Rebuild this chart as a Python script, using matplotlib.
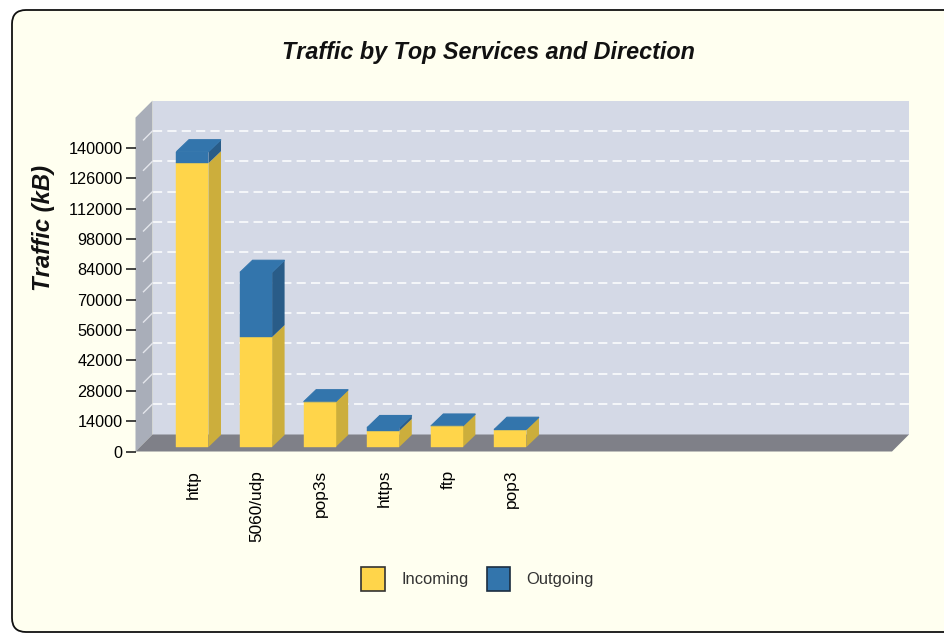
import numpy as np
import matplotlib
matplotlib.use("Agg")
import matplotlib.pyplot as plt
from matplotlib.patches import FancyBboxPatch, Polygon, Patch
from matplotlib.transforms import Affine2D, IdentityTransform

# values (kB)
services = ["http", "5060/udp", "pop3s", "https", "ftp", "pop3"]
incoming = [130900, 50700, 20700, 7400, 9500, 8000]
outgoing = [5300, 29900, 200, 1600, 200, 200]
y_ticks = [0, 14000, 28000, 42000, 56000, 70000, 84000, 98000, 112000, 126000, 140000]

YELLOW = "#FFD54A"
YELLOW_SIDE = "#CCAE3C"
BLUE = "#3375AC"
BLUE_SIDE = "#295C88"
PANEL = "#FFFFF0"
WALL = "#D4D9E6"
LEFT_WALL = "#A9AEB9"
FLOOR = "#7F8088"

W, H = 945, 634
plt.rcParams["font.family"] = ["Liberation Sans", "DejaVu Sans"]
plt.rcParams["text.kerning_factor"] = 6

fig = plt.figure(figsize=(W / 100, H / 100), dpi=100, facecolor="white")

# rounded panel, runs off the right edge of the image
fig.add_artist(FancyBboxPatch((24, 14), 940, 598, boxstyle="round,pad=12,rounding_size=14",
                              transform=IdentityTransform(), facecolor=PANEL,
                              edgecolor="#111111", linewidth=1.3, zorder=-1))

# axes = front plane of the 3d box
left, right, bottom, top = 135.5, 892.0, 451.5, 117.6
ax = fig.add_axes([left / W, 1 - bottom / H, (right - left) / W, (bottom - top) / H])
ax.set_xlim(-0.912, 10.984)
ax.set_ylim(0, 154000)
ax.patch.set_visible(False)
for s in ax.spines.values():
    s.set_visible(False)

ax_w = right - left
ax_h = bottom - top
px_x = ax_w / 11.896
px_y = ax_h / 154000
WALL_DEPTH = 17


def axpt(x, y, d=0):
    # axes fraction plus depth in pixels
    return (x + d / ax_w, y + d / ax_h)


def wall(points, color, z):
    ax.add_patch(Polygon([axpt(*p) for p in points], closed=True, facecolor=color,
                         edgecolor="none", transform=ax.transAxes, clip_on=False, zorder=z))


wall([(0, 0, WALL_DEPTH), (1, 0, WALL_DEPTH), (1, 1, WALL_DEPTH), (0, 1, WALL_DEPTH)], WALL, 1)
wall([(0, 0, 0), (0, 1, 0), (0, 1, WALL_DEPTH), (0, 0, WALL_DEPTH)], LEFT_WALL, 1)
wall([(0, 0, 0), (1, 0, 0), (1, 0, WALL_DEPTH), (0, 0, WALL_DEPTH)], FLOOR, 1.5)

# dashed grid on back wall and a short diagonal on the left wall
for v in y_ticks[1:]:
    yf = v / 154000
    p0 = axpt(0, yf, WALL_DEPTH)
    p1 = axpt(1, yf, WALL_DEPTH)
    ax.plot([p0[0], p1[0]], [p0[1], p1[1]], transform=ax.transAxes, color="white", lw=1.1,
            dashes=(6, 3.4), clip_on=False, zorder=2)
    p2 = axpt(0, yf, 8)
    ax.plot([p2[0], p0[0]], [p2[1], p0[1]], transform=ax.transAxes, color="#E4E6EC", lw=1.0,
            clip_on=False, zorder=2)

# stacked 3d bars, front faces sit a bit inside the floor
bar_w = 32 / px_x
dx = 12.5 / px_x
dy = 12 / px_y
front = Affine2D().translate(-1, 4.5)
x = np.arange(len(services))
inc = np.array(incoming)
out = np.array(outgoing)
trans = ax.transData + front

# top faces first so the blue front covers the joint
for xi, a, b in zip(x, inc, out):
    x1 = xi - bar_w / 2
    x2 = xi + bar_w / 2
    total = a + b
    ax.add_patch(Polygon([(x2, 0), (x2 + dx, dy), (x2 + dx, a + dy), (x2, a)],
                         facecolor=YELLOW_SIDE, edgecolor="none", transform=trans, zorder=4))
    ax.add_patch(Polygon([(x2, a), (x2 + dx, a + dy), (x2 + dx, total + dy), (x2, total)],
                         facecolor=BLUE_SIDE, edgecolor="none", transform=trans, zorder=4))
    ax.add_patch(Polygon([(x1, total), (x2, total), (x2 + dx, total + dy), (x1 + dx, total + dy)],
                         facecolor=BLUE, edgecolor=BLUE, linewidth=0.8, transform=trans, zorder=4.5))

ax.bar(x, inc, bar_w, color=YELLOW, edgecolor=YELLOW, linewidth=0.3, transform=trans, zorder=5)
ax.bar(x, out, bar_w, bottom=inc, color=BLUE, edgecolor=BLUE, linewidth=0.3, transform=trans, zorder=5)

ax.set_yticks(y_ticks)
ax.set_yticklabels([str(v) for v in y_ticks], fontsize=11.7)
ax.tick_params(axis="y", length=7.2, width=1.1, pad=2.0, color="#111111")
ax.set_xticks(x)
ax.set_xticklabels(services, rotation=90, fontsize=12.4)
ax.tick_params(axis="x", length=0, pad=13.3)

fig.text(488 / W, 1 - 52 / H, "Traffic by Top Services and Direction", ha="center", va="center",
         fontsize=16.8, fontweight="bold", fontstyle="italic", color="#111111")
fig.text(43.5 / W, 1 - 227.5 / H, "Traffic (kB)", ha="center", va="center", rotation=90,
         fontsize=17.2, fontweight="bold", fontstyle="italic", color="#111111")

handles = [Patch(facecolor=YELLOW, edgecolor="#333333", linewidth=1.2, label="Incoming"),
           Patch(facecolor=BLUE, edgecolor="#1C2E40", linewidth=1.2, label="Outgoing")]
fig.legend(handles=handles, ncol=2, loc="center", bbox_to_anchor=(477.5 / W, 1 - 579 / H),
           frameon=False, fontsize=11.9, handlelength=1.4, handleheight=1.85,
           handletextpad=1.0, columnspacing=1.1, labelcolor="#333333", borderpad=0)

fig.savefig("out.png", dpi=100)
